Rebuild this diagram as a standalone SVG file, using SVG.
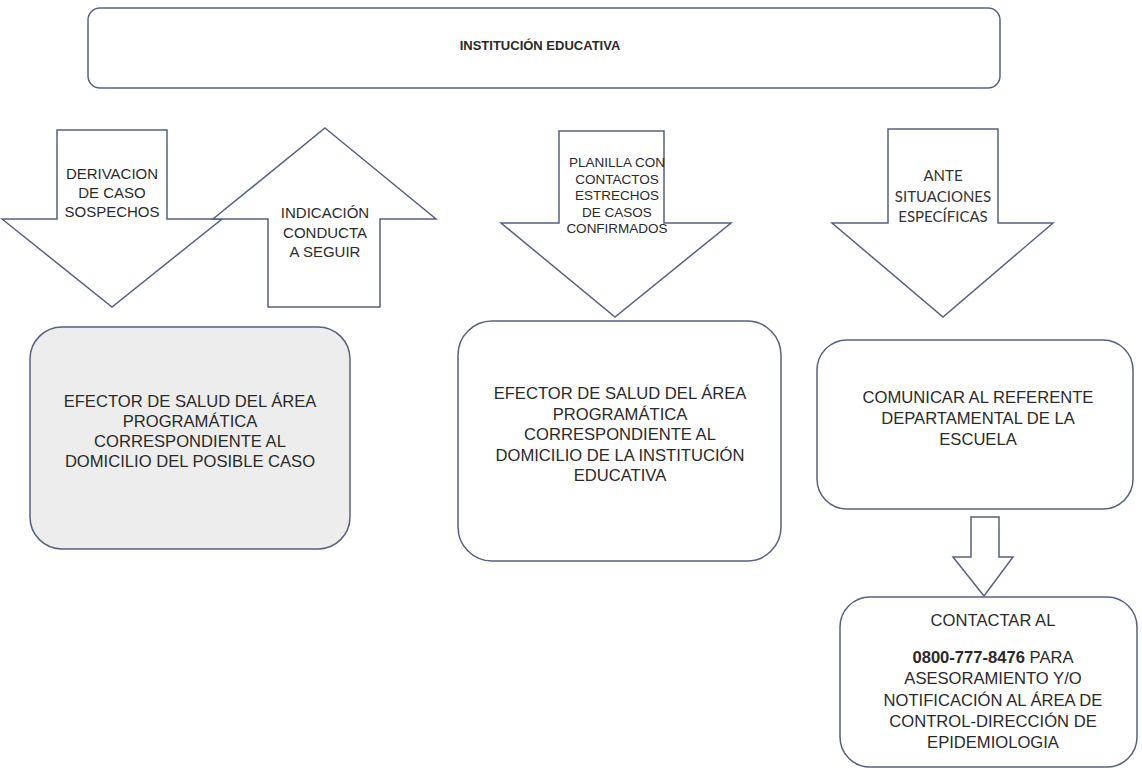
<svg xmlns="http://www.w3.org/2000/svg" width="1142" height="771" viewBox="0 0 1142 771">
<style>
.shape{fill:#ffffff;stroke:#55627f;stroke-width:1.5;stroke-linejoin:miter}
.gray{fill:#ededed}
.t{font-family:"Liberation Sans",Arial,sans-serif;fill:#2a2a2a;text-anchor:middle}
.s15{font-size:15px}
.s13{font-size:13.5px}
.s17{font-size:16.6px}
.cal{font-family:Lato,"Open Sans",sans-serif;font-size:15px;fill:#333333;text-anchor:middle}
.b{font-weight:bold}
</style>
<rect width="1142" height="771" fill="#ffffff"/>

<g id="institucion">
<rect class="shape" x="88" y="8" width="912" height="80" rx="12" ry="12"/>
<text class="t b" x="540" y="50" font-size="13">INSTITUCIÓN EDUCATIVA</text>
</g>

<g id="connectors">
<g id="arrow-derivacion">
<polygon class="shape" points="57,130 167,130 167,219 222,219 112,307 2,219 57,219"/>
<text class="t s15" x="112"><tspan x="112" y="179">DERIVACION</tspan><tspan x="112" y="198">DE CASO</tspan><tspan x="112" y="217">SOSPECHOS</tspan></text>
</g>
<g id="arrow-indicacion">
<polygon class="shape" points="325,128 436,219 380,219 380,307 268,307 268,219 213,219"/>
<text class="t s15" x="325"><tspan x="325" y="218">INDICACIÓN</tspan><tspan x="325" y="238">CONDUCTA</tspan><tspan x="325" y="257">A SEGUIR</tspan></text>
</g>
<g id="arrow-planilla">
<polygon class="shape" points="559,131 664,131 664,223 731,223 615,317 501,223 559,223"/>
<text class="t s13" x="617"><tspan x="617" y="167">PLANILLA CON</tspan><tspan x="617" y="183.5">CONTACTOS</tspan><tspan x="617" y="200">ESTRECHOS</tspan><tspan x="617" y="216.5">DE CASOS</tspan><tspan x="617" y="233">CONFIRMADOS</tspan></text>
</g>
<g id="arrow-ante">
<polygon class="shape" points="888,129 998,129 998,223 1053,223 943,317 832,223 888,223"/>
<text class="cal" x="943"><tspan x="943" y="181">ANTE</tspan><tspan x="943" y="202">SITUACIONES</tspan><tspan x="943" y="222">ESPECÍFICAS</tspan></text>
</g>
<g id="arrow-small">
<polygon class="shape" points="971,517 999,517 999,557 1013,557 984,596 953,557 971,557"/>
</g>
</g>

<g id="efector-domicilio-caso">
<rect class="shape gray" x="30" y="327" width="320" height="222" rx="32" ry="32"/>
<text class="t s17" x="190"><tspan x="190" y="407">EFECTOR DE SALUD DEL ÁREA</tspan><tspan x="190" y="427">PROGRAMÁTICA</tspan><tspan x="190" y="447">CORRESPONDIENTE AL</tspan><tspan x="190" y="467">DOMICILIO DEL POSIBLE CASO</tspan></text>
</g>

<g id="efector-institucion">
<rect class="shape" x="458" y="321" width="323" height="240" rx="34" ry="34"/>
<text class="t s17" x="620"><tspan x="620" y="399">EFECTOR DE SALUD DEL ÁREA</tspan><tspan x="620" y="419.5">PROGRAMÁTICA</tspan><tspan x="620" y="440">CORRESPONDIENTE AL</tspan><tspan x="620" y="460.5">DOMICILIO DE LA INSTITUCIÓN</tspan><tspan x="620" y="481">EDUCATIVA</tspan></text>
</g>

<g id="comunicar">
<rect class="shape" x="817" y="340" width="316" height="169" rx="30" ry="30"/>
<text class="t s17" x="978"><tspan x="978" y="403">COMUNICAR AL REFERENTE</tspan><tspan x="978" y="424">DEPARTAMENTAL DE LA</tspan><tspan x="978" y="445">ESCUELA</tspan></text>
</g>

<g id="contactar">
<rect class="shape" x="840" y="597" width="297" height="170" rx="30" ry="30"/>
<text class="t s17" x="993"><tspan x="993" y="626">CONTACTAR AL</tspan><tspan x="993" y="663"><tspan class="b">0800-777-8476</tspan> PARA</tspan><tspan x="993" y="684">ASESORAMIENTO Y/O</tspan><tspan x="993" y="705.5">NOTIFICACIÓN AL ÁREA DE</tspan><tspan x="993" y="727">CONTROL-DIRECCIÓN DE</tspan><tspan x="993" y="748">EPIDEMIOLOGIA</tspan></text>
</g>
</svg>
